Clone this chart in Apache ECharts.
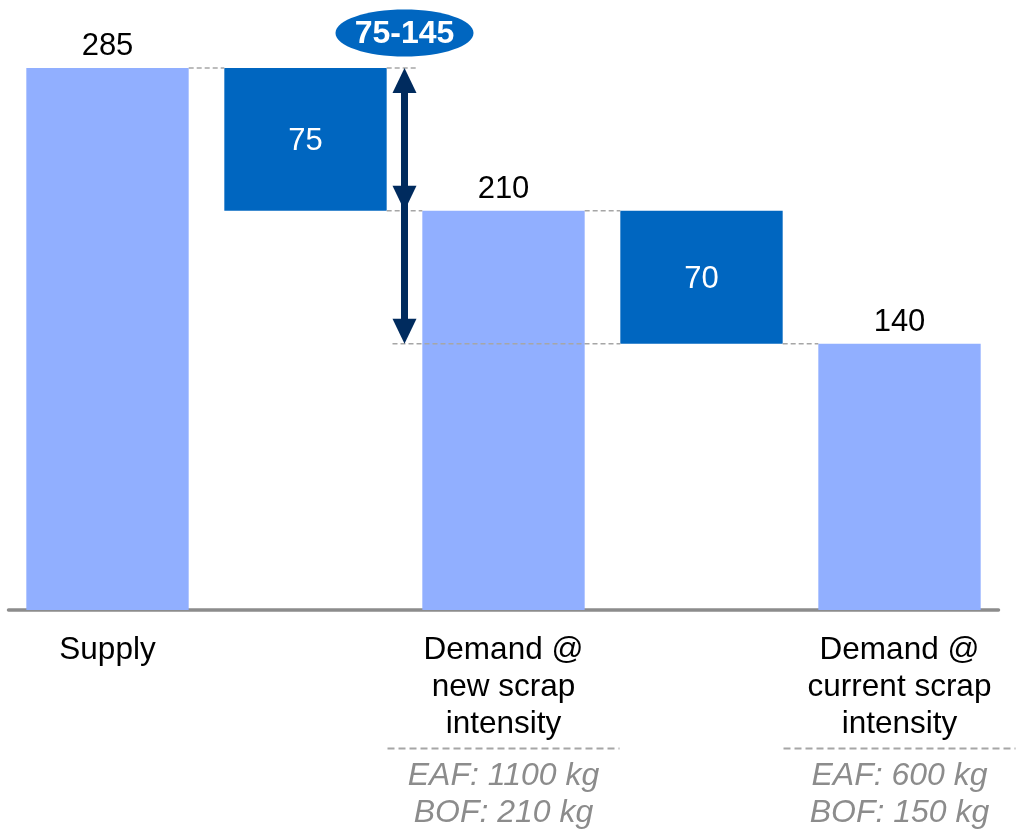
<!DOCTYPE html>
<html>
<head>
<meta charset="utf-8">
<script src="https://cdn.jsdelivr.net/npm/echarts@6/dist/echarts.min.js"></script>
<style>html,body{margin:0;padding:0;background:#fff}#c{width:1017px;height:835px}</style>
</head>
<body>
<div id="c"></div>
<script>
var categories = ['Supply', 'gap1', 'Demand @\nnew scrap\nintensity', 'gap2', 'Demand @\ncurrent scrap\nintensity'];
var subNotes = ['', '', 'EAF: 1100 kg\nBOF: 210 kg', '', 'EAF: 600 kg\nBOF: 150 kg'];
var baseValues = [0, 210, 0, 140, 0];
var barValues = [285, 75, 210, 70, 140];
var isGap = [false, true, false, true, false];
var rangeLabel = '75-145';
var arrowLevels = [285, 210, 140];

var FONT = "'Liberation Sans', Arial, sans-serif";
var LIGHT = '#91AFFF', DARK = '#0066C0', NAVY = '#002B5E', DASH = '#A6A6A6';

var chart = echarts.init(document.getElementById('c'), null, {renderer: 'canvas'});

var option = {
  animation: false,
  grid: {left: 8.5, right: 18.5, top: 39.6, bottom: 225, containLabel: false},
  xAxis: {
    type: 'category',
    data: categories,
    axisLine: {show: true, lineStyle: {color: '#8C8C8C', width: 3.5}},
    axisTick: {show: false},
    splitLine: {show: false},
    axisLabel: {
      interval: 0,
      margin: 22,
      formatter: function (v, i) {
        if (isGap[i]) return '';
        var out = v.split('\n').map(function (s) { return '{a|' + s + '}'; });
        if (subNotes[i]) {
          out.push('{s| }');
          subNotes[i].split('\n').forEach(function (s) { out.push('{g|' + s + '}'); });
        }
        return out.join('\n');
      },
      rich: {
        a: {fontFamily: FONT, fontSize: 31.5, color: '#000', lineHeight: 37},
        s: {fontSize: 2, lineHeight: 15},
        g: {fontFamily: FONT, fontSize: 32, color: '#8C8C8C', fontStyle: 'italic', lineHeight: 37}
      }
    }
  },
  yAxis: {type: 'value', min: 0, max: 300, show: false, splitLine: {show: false}},
  series: [
    {
      type: 'bar', stack: 'w', barWidth: '82%', silent: true,
      itemStyle: {color: 'transparent'},
      data: baseValues
    },
    {
      type: 'bar', stack: 'w', barWidth: '82%',
      data: barValues.map(function (v, i) {
        return {
          value: v,
          itemStyle: {color: isGap[i] ? DARK : LIGHT},
          label: isGap[i]
            ? {show: true, position: 'inside', color: '#fff', fontSize: 31, fontFamily: FONT, offset: [0, 2]}
            : {show: true, position: 'top', distance: 6, color: '#000', fontSize: 31, fontFamily: FONT,
               formatter: function () { return String(baseValues[i] + v); }}
        };
      })
    }
  ]
};
chart.setOption(option);

function px(ci, val) { return chart.convertToPixel({gridIndex: 0}, [ci, val]); }
var c0 = px(0, 0), c1 = px(1, 0);
var band = c1[0] - c0[0];
var bw = band * 0.82;
function cx(i) { return px(i, 0)[0]; }
function right(i) { return cx(i) + bw / 2; }
function left(i) { return cx(i) - bw / 2; }
function yv(v) { return px(0, v)[1]; }

var arrowX = (cx(1) + cx(2)) / 2;
var graphics = [];
function dash(x1, x2, y) {
  graphics.push({type: 'line', z: 100, shape: {x1: x1, y1: y, x2: x2, y2: y},
    style: {stroke: DASH, lineWidth: 1.5, lineDash: [5, 3]}});
}
var topS = baseValues[0] + barValues[0];
var mid = baseValues[2] + barValues[2];
var low = baseValues[4] + barValues[4];
dash(right(0), left(1), yv(topS));
dash(right(1), arrowX + 13, yv(topS));
dash(right(1), left(2), yv(mid));
dash(right(2), left(3), yv(mid));
dash(arrowX - 12, left(3), yv(low));
dash(right(3), left(4), yv(low));

// arrow
var yTop = yv(arrowLevels[0]), yMid = yv(arrowLevels[1]), yLow = yv(arrowLevels[2]);
var hw = 12, hh = 25;
graphics.push({type: 'line', z: 110, shape: {x1: arrowX, y1: yTop + 10, x2: arrowX, y2: yLow - 10},
  style: {stroke: NAVY, lineWidth: 7}});
graphics.push({type: 'polygon', z: 111, shape: {points: [[arrowX, yTop], [arrowX - hw, yTop + hh], [arrowX + hw, yTop + hh]]},
  style: {fill: NAVY}});
graphics.push({type: 'polygon', z: 111, shape: {points: [[arrowX, yMid], [arrowX - hw, yMid - hh], [arrowX + hw, yMid - hh]]},
  style: {fill: NAVY}});
graphics.push({type: 'polygon', z: 111, shape: {points: [[arrowX, yLow], [arrowX - hw, yLow - hh], [arrowX + hw, yLow - hh]]},
  style: {fill: NAVY}});

// ellipse label
graphics.push({type: 'ellipse', z: 120, shape: {cx: arrowX, cy: yTop - 35, rx: 69, ry: 23.5},
  style: {fill: DARK}});
graphics.push({type: 'text', z: 121, x: arrowX, y: yTop - 34,
  style: {text: rangeLabel, fill: '#fff', font: 'bold 32px ' + FONT, align: 'center', verticalAlign: 'middle'}});

// separators under category labels
var y0 = yv(0);
[2, 4].forEach(function (i) {
  graphics.push({type: 'line', z: 100, shape: {x1: cx(i) - 116, y1: y0 + 138.5, x2: cx(i) + 116, y2: y0 + 138.5},
    style: {stroke: DASH, lineWidth: 2, lineDash: [7, 4]}});
});

chart.setOption({graphic: {elements: graphics}});
</script>
</body>
</html>
